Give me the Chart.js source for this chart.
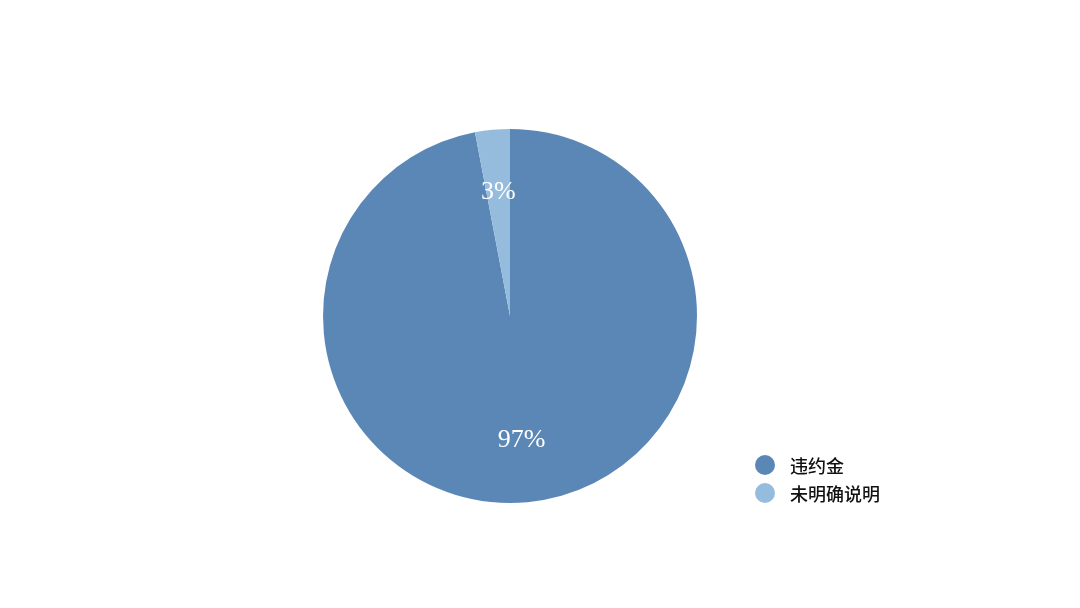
<!DOCTYPE html>
<html>
<head>
<meta charset="utf-8">
<script src="https://cdn.jsdelivr.net/npm/chart.js@4/dist/chart.umd.min.js"></script>
<style>
  html, body { margin: 0; padding: 0; background: #fff; }
  #wrap { width: 1080px; height: 608px; position: relative; }
</style>
</head>
<body>
<div id="wrap"><canvas id="c" width="1080" height="608"></canvas></div>
<script>
const categories = ['违约金', '未明确说明'];
const shares = [97, 3];
const sliceColors = ['#5b87b6', '#96bcdd'];

// percentage labels inside the slices, at 2/3 radius
const sliceLabels = {
    id: 'sliceLabels',
    afterDatasetsDraw(chart) {
        const ctx = chart.ctx;
        const meta = chart.getDatasetMeta(0);
        ctx.save();
        ctx.font = '26px "Liberation Serif", "Times New Roman", serif';
        ctx.fillStyle = '#ffffff';
        ctx.textAlign = 'center';
        ctx.textBaseline = 'middle';
        meta.data.forEach((arc, i) => {
            const p = arc.getProps(['x', 'y', 'startAngle', 'endAngle', 'outerRadius'], true);
            const mid = (p.startAngle + p.endAngle) / 2;
            const r = p.outerRadius * 0.665;
            ctx.fillText(shares[i] + '%', p.x + Math.cos(mid) * r, p.y + Math.sin(mid) * r);
        });
        ctx.restore();
    }
};

// legend in the lower right corner
const cornerLegend = {
    id: 'cornerLegend',
    afterDraw(chart) {
        const ctx = chart.ctx;
        ctx.save();
        ctx.font = '500 18px "Noto Sans CJK SC", sans-serif';
        ctx.textBaseline = 'middle';
        ctx.textAlign = 'left';
        categories.forEach((name, i) => {
            const y = 465 + i * 28;
            ctx.beginPath();
            ctx.arc(765, y, 10, 0, Math.PI * 2);
            ctx.fillStyle = sliceColors[i];
            ctx.fill();
            ctx.fillStyle = '#111111';
            ctx.fillText(name, 790, y + 1);
        });
        ctx.restore();
    }
};

new Chart(document.getElementById('c'), {
    type: 'pie',
    data: {
        labels: categories,
        datasets: [{
            data: shares,
            backgroundColor: sliceColors,
            borderWidth: 0
        }]
    },
    options: {
        responsive: false,
        animation: false,
        layout: { padding: { top: 129, bottom: 105, left: 323, right: 383 } },
        plugins: {
            legend: { display: false },
            tooltip: { enabled: false }
        }
    },
    plugins: [sliceLabels, cornerLegend]
});
</script>
</body>
</html>
